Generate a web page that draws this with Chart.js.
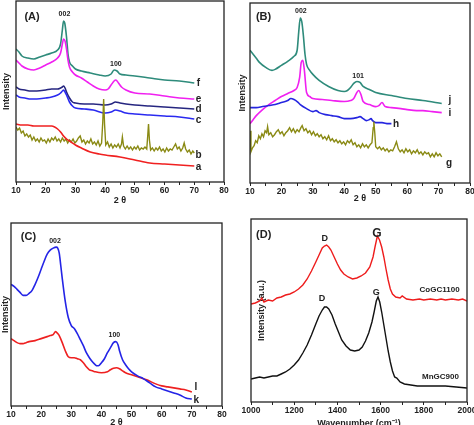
<!DOCTYPE html>
<html>
<head>
<meta charset="utf-8">
<script src="https://cdn.jsdelivr.net/npm/chart.js@4.4.1/dist/chart.umd.min.js"></script>
<style>
  html, body { margin: 0; padding: 0; background: #fff; }
  #wrap { position: relative; width: 474px; height: 425px; overflow: hidden; }
  canvas { position: absolute; }
</style>
</head>
<body>
<div id="wrap">
  <canvas id="panelA" width="237" height="212" style="left:0;top:0"></canvas>
  <canvas id="panelB" width="237" height="212" style="left:237px;top:0"></canvas>
  <canvas id="panelC" width="237" height="213" style="left:0;top:212px"></canvas>
  <canvas id="panelD" width="237" height="213" style="left:237px;top:212px"></canvas>
</div>
<script>
// ---- panel A : XRD, 2 theta vs intensity (a.u.)
const aX = [10, 12, 14, 16, 18, 20, 22, 23, 24, 25, 26, 27, 28, 30, 32, 35, 38, 40, 45, 50, 55, 60, 65, 70];
const aY = [58, 57, 57, 56, 56, 56, 56, 55, 53, 50, 46, 43, 41, 37, 34, 30, 28, 27, 25, 22, 19, 18, 17, 16];

const bX = [10, 10.6, 11.2, 11.8, 12.4, 13, 13.6, 14.2, 14.8, 15.4, 16, 16.6, 17.2, 17.8, 18.4, 19, 19.6, 20.2, 20.8, 21.4,
  22, 22.6, 23.2, 23.8, 24.4, 25, 25.6, 26.2, 26.8, 27.4, 28, 28.6, 29.2, 29.8, 30.4, 31, 31.6, 32.2, 32.8, 33.4,
  34, 34.6, 35.2, 35.8, 36.4, 37, 37.6, 38.2, 38.8, 39.2, 39.5, 39.8, 40.2, 40.8, 41.4, 42, 42.6, 43.2, 43.8, 44.4,
  45, 45.5, 45.8, 46.2, 46.8, 47.4, 48, 48.6, 49.2, 49.8, 50.4, 51, 51.6, 52.2, 52.8, 53.4, 54, 54.3, 54.6, 54.9,
  55.3, 55.9, 56.5, 57.1, 57.7, 58.3, 58.9, 59.5, 60.1, 60.7, 61.3, 61.9, 62.5, 63.1, 63.7, 64.3, 64.9, 65.5, 66.1, 66.6,
  67.1, 67.7, 68.3, 68.9, 69.5, 70];
const bY = [55, 52, 54, 49, 51, 46, 48, 45, 47, 42, 45, 41, 43, 40, 44, 41, 42, 39, 43, 40,
  44, 42, 45, 41, 43, 40, 44, 41, 43, 39, 42, 40, 43, 39, 41, 44, 46, 40, 42, 38,
  41, 39, 43, 38, 40, 37, 41, 36, 39, 60, 83, 58, 37, 40, 35, 38, 34, 37, 35, 38,
  34, 38, 45, 36, 33, 36, 33, 35, 32, 35, 33, 36, 32, 34, 33, 35, 33, 45, 58, 42,
  32, 34, 31, 34, 32, 35, 31, 33, 30, 34, 31, 33, 32, 35, 38, 33, 35, 31, 34, 39,
  33, 30, 32, 28, 31, 29];

const cX = [10, 11, 13, 15, 17, 20, 22, 24, 25, 25.6, 26, 26.5, 27, 28, 29, 30, 33, 36, 40, 42, 43.5, 45, 47, 50, 55, 60, 65, 70];
const cY = [87, 85, 84, 83, 83, 84, 85, 87, 89, 91, 92, 90, 87, 80, 76, 74, 73, 72, 69, 70, 72, 71, 69, 68, 67, 66, 65, 63];

const dX = [10, 11, 13, 15, 17, 20, 22, 24, 25, 25.6, 26, 26.5, 27, 28, 29, 30, 33, 36, 40, 42, 43.5, 45, 47, 50, 55, 60, 65, 70];
const dY = [95, 93, 92, 91, 91, 92, 93, 93, 94, 95, 96, 94, 90, 84, 80, 79, 78, 78, 77, 78, 80, 79, 78, 77, 76, 75, 74, 73];

const eX = [10, 11, 12, 14, 16, 18, 20, 22, 24, 25, 25.6, 26, 26.5, 27, 27.5, 28, 29, 30, 32, 34, 36, 38, 40, 41, 42, 43, 43.6, 44.5, 45.5, 47, 50, 55, 60, 65, 70];
const eY = [122, 119, 116, 113, 112, 114, 117, 120, 124, 129, 138, 143, 141, 133, 122, 115, 110, 107, 104, 100, 96, 93, 92, 93, 97, 101, 102, 99, 95, 92, 89, 88, 86, 84, 83];

const fX = [10, 11, 12, 14, 16, 18, 20, 22, 24, 25, 25.6, 26, 26.4, 27, 27.5, 28, 29, 30, 32, 35, 38, 40, 42, 43, 44, 45, 47, 50, 55, 60, 65, 70];
const fY = [133, 130, 126, 124, 123, 125, 127, 129, 132, 138, 152, 161, 159, 145, 128, 120, 116, 113, 111, 109, 107, 106, 108, 112, 111, 108, 107, 106, 104, 102, 101, 99];

// ---- panel B
const gX = [10, 10.3, 10.8, 11.3, 11.8, 12.3, 12.8, 13.3, 13.8, 14.3, 14.8, 15.3, 15.6, 16, 16.6, 17.2, 17.8, 18.4, 19, 19.6,
  20.2, 20.8, 21.4, 22, 22.6, 23.2, 23.8, 24.4, 25, 25.6, 26.2, 26.6, 27.2, 27.8, 28.4, 29, 29.6, 30.2, 30.8, 31.4,
  32, 32.6, 33.2, 33.8, 34.4, 35, 35.6, 36.2, 36.8, 37.4, 38, 38.6, 39.2, 39.8, 40.4, 41, 41.6, 42.2, 42.8, 43.4,
  44, 44.6, 45.2, 45.8, 46.4, 47, 47.6, 48.2, 48.8, 49.2, 49.4, 49.7, 50, 50.6, 51.2, 51.8, 52.4, 53, 53.6, 54.2,
  54.8, 55.4, 56, 56.6, 57.2, 57.8, 58.4, 59, 59.6, 60.2, 60.8, 61.4, 62, 62.6, 63.2, 63.8, 64.4, 65, 65.6, 66.2,
  66.8, 67.4, 68, 68.6, 69.2, 69.8, 70.4, 71];
const gY = [52, 31, 35, 37, 42, 40, 47, 44, 49, 46, 52, 50, 56, 48, 50, 46, 48, 51, 53, 49,
  51, 47, 50, 52, 55, 51, 54, 50, 53, 51, 55, 57, 52, 54, 50, 52, 48, 51, 47, 49,
  46, 48, 44, 46, 43, 47, 42, 44, 41, 43, 40, 42, 39, 41, 38, 42, 40, 43, 38, 40,
  36, 38, 35, 39, 36, 38, 35, 38, 40, 55, 61, 50, 36, 34, 36, 33, 35, 32, 34, 31,
  33, 32, 36, 41, 34, 31, 33, 30, 34, 31, 33, 29, 32, 30, 33, 29, 31, 28, 31, 29,
  30, 26, 29, 26, 30, 27, 29, 26];

const hX = [10, 12, 14, 16, 18, 20, 22, 23, 24, 25, 26, 28, 30, 31, 32, 34, 36, 38, 40, 42, 44, 45, 46, 47, 48, 48.5, 49, 50, 52, 54, 55];
const hY = [75, 75, 76, 77, 78, 80, 82, 84, 83, 81, 78, 74, 71, 72, 70, 68, 67, 66, 64, 64, 65, 66, 64, 62, 63, 64, 62, 60, 60, 59, 59];

const iX = [10, 11, 12, 14, 16, 18, 20, 22, 24, 25, 25.8, 26.3, 26.8, 27.3, 28, 29, 30, 33, 36, 40, 42, 43, 44, 44.6, 45.3, 46, 48, 50, 51, 52, 53, 55, 58, 60, 63, 65, 68, 71];
const iY = [59, 63, 67, 73, 78, 82, 86, 89, 92, 95, 105, 120, 122, 112, 90, 86, 84, 83, 82, 81, 82, 84, 90, 92, 88, 81, 78, 76, 77, 80, 76, 75, 74, 73, 72, 72, 71, 70];

const jX = [10, 11, 12, 13, 15, 17, 18, 20, 22, 24, 25, 25.5, 26, 26.5, 27, 27.5, 28, 29, 30, 32, 35, 38, 40, 41, 42, 43, 44, 45, 46, 48, 50, 55, 60, 65, 71];
const jY = [132, 128, 124, 120, 115, 112, 113, 117, 121, 126, 132, 150, 164, 160, 146, 128, 118, 112, 108, 102, 96, 92, 91, 92, 95, 99, 101, 100, 96, 93, 90, 87, 84, 82, 79];

// ---- panel C
const kX = [10, 11, 12, 13, 14, 15, 16, 17, 18, 19, 20, 21, 22, 23, 24, 25, 25.5, 26, 26.5, 27, 28, 29, 30, 31, 32, 33, 34, 35, 36, 37, 38, 38.5, 39, 40, 41, 42, 43, 44, 44.8, 45.5, 46, 47, 48, 49, 50, 52, 54, 56, 58, 60, 62, 64, 66, 68, 70];
const kY = [121, 119, 116, 113, 110, 110, 112, 115, 121, 128, 136, 144, 151, 155, 157, 158, 157, 152, 140, 127, 104, 88, 80, 77, 72, 66, 60, 53, 48, 44, 41, 40, 40, 43, 47, 53, 58, 63, 64, 61, 55, 46, 41, 37, 34, 30, 27, 23, 19, 17, 15, 13, 11, 8, 7];

const lX = [10, 11, 12, 13, 14, 15, 16, 18, 20, 22, 23, 24, 24.8, 25.5, 26, 27, 28, 29, 30, 31, 32, 33, 34, 35, 36, 37, 38, 40, 42, 43, 44, 45, 46, 47, 48, 50, 52, 55, 58, 60, 62, 64, 66, 68, 70];
const lY = [67, 65, 63, 62, 62, 63, 64, 65, 67, 69, 70, 71, 74, 72, 70, 63, 55, 49, 48, 48, 47, 46, 43, 39, 36, 35, 34, 33, 34, 36, 37.5, 38, 37, 35, 33, 31, 29, 26, 22, 20, 19, 18, 17, 16, 14];

// ---- panel D : Raman, wavenumber (cm-1)
const coX = [1000, 1020, 1040, 1050, 1060, 1080, 1100, 1120, 1140, 1160, 1180, 1200, 1220, 1240, 1260, 1280, 1300, 1315, 1330, 1340,
  1350, 1360, 1370, 1385, 1400, 1415, 1430, 1450, 1470, 1490, 1510, 1530, 1550, 1565, 1575, 1585, 1595, 1605, 1615, 1625,
  1635, 1645, 1655, 1670, 1690, 1700, 1720, 1750, 1780, 1800, 1830, 1860, 1880, 1900, 1930, 1960, 1980, 2000];
const coY = [98, 99, 101, 104, 100, 102, 101, 104, 105, 107, 108, 110, 113, 117, 123, 131, 140, 147, 154, 156,
  157, 155, 152, 145, 138, 132, 128, 125, 123, 124, 126, 129, 135, 145, 156, 166, 162, 155, 145, 133,
  122, 113, 108, 105, 104, 106, 103, 102, 103, 102, 103, 102, 103, 102, 103, 102, 103, 101];

const mnX = [1000, 1020, 1040, 1060, 1080, 1100, 1120, 1140, 1160, 1180, 1200, 1220, 1240, 1260, 1280, 1300, 1315, 1330, 1340, 1350,
  1360, 1375, 1390, 1405, 1420, 1440, 1460, 1480, 1500, 1515, 1530, 1545, 1560, 1570, 1580, 1588, 1596, 1605, 1615, 1625,
  1635, 1645, 1655, 1665, 1675, 1690, 1710, 1740, 1770, 1800, 1850, 1900, 1950, 2000];
const mnY = [23, 24, 25, 24, 25, 26, 26, 28, 30, 33, 37, 42, 49, 57, 67, 78, 86, 92, 95, 95,
  93, 87, 78, 70, 62, 56, 52, 51, 52, 55, 61, 69, 80, 90, 101, 105, 100, 90, 77, 64,
  51, 40, 31, 25, 24, 20, 18, 17, 16, 16, 16, 16, 15, 14];

// text placed on the plots (data coordinates)
const notesA = [
  { text: "(A)", x: 15.4, y: 165, size: 11 },
  { text: "002", x: 26.3, y: 168, size: 7 },
  { text: "100", x: 43.6, y: 118, size: 7 },
  { text: "f", x: 71.4, y: 99, size: 10 },
  { text: "e", x: 71.4, y: 83, size: 10 },
  { text: "d", x: 71.4, y: 73, size: 10 },
  { text: "c", x: 71.4, y: 62, size: 10 },
  { text: "b", x: 71.4, y: 27, size: 10 },
  { text: "a", x: 71.4, y: 15, size: 10 }
];
const notesB = [
  { text: "(B)", x: 14.3, y: 165, size: 11 },
  { text: "002", x: 26.2, y: 171, size: 7 },
  { text: "101", x: 44.4, y: 106, size: 7 },
  { text: "j", x: 73.6, y: 82, size: 10 },
  { text: "i", x: 73.6, y: 69, size: 10 },
  { text: "h", x: 56.5, y: 58, size: 10 },
  { text: "g", x: 73.3, y: 20, size: 10 }
];
const notesC = [
  { text: "(C)", x: 15.8, y: 168, size: 11 },
  { text: "002", x: 24.6, y: 164, size: 7 },
  { text: "100", x: 44.3, y: 71, size: 7 },
  { text: "l", x: 71.3, y: 19, size: 10 },
  { text: "k", x: 71.5, y: 6, size: 10 }
];
const notesD = [
  { text: "(D)", x: 1059, y: 167, size: 11 },
  { text: "D", x: 1341, y: 163, size: 9 },
  { text: "G", x: 1583, y: 168, size: 12 },
  { text: "D", x: 1329, y: 103, size: 9 },
  { text: "G", x: 1580, y: 109, size: 9 },
  { text: "CoGC1100", x: 1873, y: 112, size: 8 },
  { text: "MnGC900", x: 1877, y: 25, size: 8 }
];

const FONT = "'Liberation Sans', Arial, sans-serif";
Chart.defaults.font.family = FONT;
Chart.defaults.color = "#222";

function pts(xs, ys) {
  return xs.map(function (x, i) { return { x: x, y: ys[i] }; });
}

function line(xs, ys, color, smooth) {
  return {
    data: pts(xs, ys),
    borderColor: color,
    borderWidth: smooth ? 1.6 : 1.4,
    pointRadius: 0,
    fill: false,
    cubicInterpolationMode: smooth ? "monotone" : "default",
    tension: 0
  };
}

const framePlugin = {
  id: "frame",
  afterDatasetsDraw: function (chart, args, opts) {
    const ctx = chart.ctx;
    const area = chart.chartArea;
    const xs = chart.scales.x;
    const ys = chart.scales.y;
    ctx.save();
    ctx.strokeStyle = "#222";
    ctx.lineWidth = 1.3;
    ctx.strokeRect(area.left, area.top, area.right - area.left, area.bottom - area.top);
    ctx.fillStyle = "#222";
    ctx.textAlign = "center";
    ctx.textBaseline = "middle";
    (opts.notes || []).forEach(function (n) {
      ctx.font = "bold " + n.size + "px " + FONT;
      ctx.fillText(n.text, xs.getPixelForValue(n.x), ys.getPixelForValue(n.y));
    });
    ctx.restore();
  }
};

function makePanel(id, p) {
  new Chart(document.getElementById(id), {
    type: "line",
    data: { datasets: p.datasets },
    plugins: [framePlugin],
    options: {
      responsive: false,
      animation: false,
      layout: { padding: { left: 0, right: p.padRight, top: p.padTop, bottom: 0 } },
      plugins: {
        legend: { display: false },
        tooltip: { enabled: false },
        frame: { notes: p.notes }
      },
      scales: {
        x: {
          type: "linear",
          min: p.xMin,
          max: p.xMax,
          afterFit: function (s) { s.height = p.xHeight; s.paddingLeft = 0; s.paddingRight = 0; },
          border: { display: false },
          grid: { display: true, drawOnChartArea: false, drawTicks: true, tickLength: 3, color: "#222" },
          ticks: {
            stepSize: p.step,
            autoSkip: false,
            maxRotation: 0,
            padding: 1,
            font: { size: 8.5, weight: "bold" },
            callback: function (v) { return v % p.labelEvery === 0 ? String(v) : ""; }
          },
          title: {
            display: true,
            text: p.xTitle,
            font: { size: 9, weight: "bold" },
            padding: { top: 0, bottom: p.xTitlePad }
          }
        },
        y: {
          min: 0,
          max: p.yMax,
          afterFit: function (s) { s.width = p.yWidth; s.paddingTop = 0; s.paddingBottom = 0; },
          border: { display: false },
          grid: { display: false },
          ticks: { display: false },
          title: {
            display: true,
            text: p.yTitle,
            font: { size: 9, weight: "bold" },
            padding: { top: p.yTitlePad, bottom: 0 }
          }
        }
      }
    }
  });
}

makePanel("panelA", {
  xMin: 10, xMax: 80, step: 5, labelEvery: 10, yMax: 181,
  xHeight: 30, yWidth: 16, padRight: 13, padTop: 1,
  xTitle: "2 θ", xTitlePad: 6.5, yTitle: "Intensity", yTitlePad: 1.5,
  notes: notesA,
  datasets: [
    line(aX, aY, "#f02020", true),
    line(bX, bY, "#8a8a14", false),
    line(cX, cY, "#2a2af0", true),
    line(dX, dY, "#262680", true),
    line(eX, eY, "#f020f0", true),
    line(fX, fY, "#2e8b7b", true)
  ]
});

makePanel("panelB", {
  xMin: 10, xMax: 80, step: 5, labelEvery: 10, yMax: 179,
  xHeight: 29, yWidth: 13, padRight: 4, padTop: 3,
  xTitle: "2 θ", xTitlePad: 8.5, yTitle: "Intensity", yTitlePad: 0.5,
  notes: notesB,
  datasets: [
    line(gX, gY, "#8a8a14", false),
    line(hX, hY, "#2525e0", true),
    line(iX, iY, "#f020f0", true),
    line(jX, jY, "#2e8b7b", true)
  ]
});

makePanel("panelC", {
  xMin: 10, xMax: 80, step: 5, labelEvery: 10, yMax: 182,
  xHeight: 19, yWidth: 11, padRight: 15, padTop: 11,
  xTitle: "2 θ", xTitlePad: -2.5, yTitle: "Intensity", yTitlePad: 0,
  notes: notesC,
  datasets: [
    line(kX, kY, "#2424e6", true),
    line(lX, lY, "#ee2020", true)
  ]
});

makePanel("panelD", {
  xMin: 1000, xMax: 2000, step: 100, labelEvery: 200, yMax: 183,
  xHeight: 23, yWidth: 14, padRight: 7, padTop: 7,
  xTitle: "Wavenumber (cm⁻¹)", xTitlePad: -3.5, yTitle: "Intensity (a.u.)", yTitlePad: 19.5,
  notes: notesD,
  datasets: [
    line(coX, coY, "#ee1c1c", false),
    line(mnX, mnY, "#111111", false)
  ]
});
</script>
</body>
</html>
